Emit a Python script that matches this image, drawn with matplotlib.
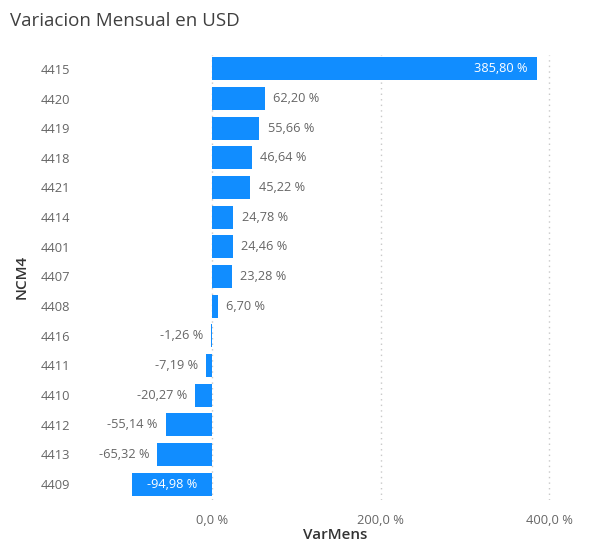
import matplotlib.pyplot as plt

# data
codes = ["4415", "4420", "4419", "4418", "4421", "4414", "4401", "4407",
         "4408", "4416", "4411", "4410", "4412", "4413", "4409"]
var_mens = [385.80, 62.20, 55.66, 46.64, 45.22, 24.78, 24.46, 23.28,
            6.70, -1.26, -7.19, -20.27, -55.14, -65.32, -94.98]
x_ticks = [0, 200, 400]

plt.rcParams['font.family'] = ['Open Sans', 'DejaVu Sans']

blue = '#118DFF'
gray = '#666666'

fig = plt.figure(figsize=(6.08, 5.49), dpi=100)
ax = fig.add_axes([0.204, 0.089, 0.738, 0.811])

ypos = list(range(len(codes)))
ax.barh(ypos, var_mens, height=0.78, color=blue, zorder=3)

def fmt(v):
    return f"{v:.2f} %".replace('.', ',')

for y, v in zip(ypos, var_mens):
    if v > 300:
        ax.annotate(fmt(v), (v, y), xytext=(-7, 0), textcoords='offset points',
                    ha='right', va='center', color='white', fontsize=9.2, zorder=4)
    elif v < -90:
        ax.text(v / 2, y, fmt(v), ha='center', va='center', color='white',
                fontsize=9.2, zorder=4)
    elif v >= 0:
        ax.annotate(fmt(v), (v, y), xytext=(6, 0), textcoords='offset points',
                    ha='left', va='center', color=gray, fontsize=9.2)
    else:
        ax.annotate(fmt(v), (v, y), xytext=(-6, 0), textcoords='offset points',
                    ha='right', va='center', color=gray, fontsize=9.2)

ax.set_xlim(-105, 428)
ax.set_ylim(14.54, -0.47)
ax.set_yticks(ypos)
ax.set_yticklabels(codes, ha='left')
ax.set_xticks(x_ticks)
ax.set_xticklabels([f"{t:.1f} %".replace('.', ',') for t in x_ticks])
ax.tick_params(axis='y', length=0, pad=60, labelsize=9.3, labelcolor=gray)
ax.tick_params(axis='x', length=0, pad=10, labelsize=9.3, labelcolor=gray)

ax.grid(axis='x', color='#c8c8c8', linestyle=(0, (1, 3)), linewidth=1, zorder=0)
for s in ax.spines.values():
    s.set_visible(False)

fig.text(0.551, 0.012, 'VarMens', ha='center', va='bottom',
         fontsize=11, color='#333333', fontweight='semibold')
fig.text(0.036, 0.495, 'NCM4', rotation=90, ha='center', va='center',
         fontsize=11, color='#333333', fontweight='semibold')

fig.text(0.016, 0.962, 'Variacion Mensual en USD', ha='left', va='center',
         fontsize=13.5, color='#404040')

fig.savefig('out.png', dpi=100)
